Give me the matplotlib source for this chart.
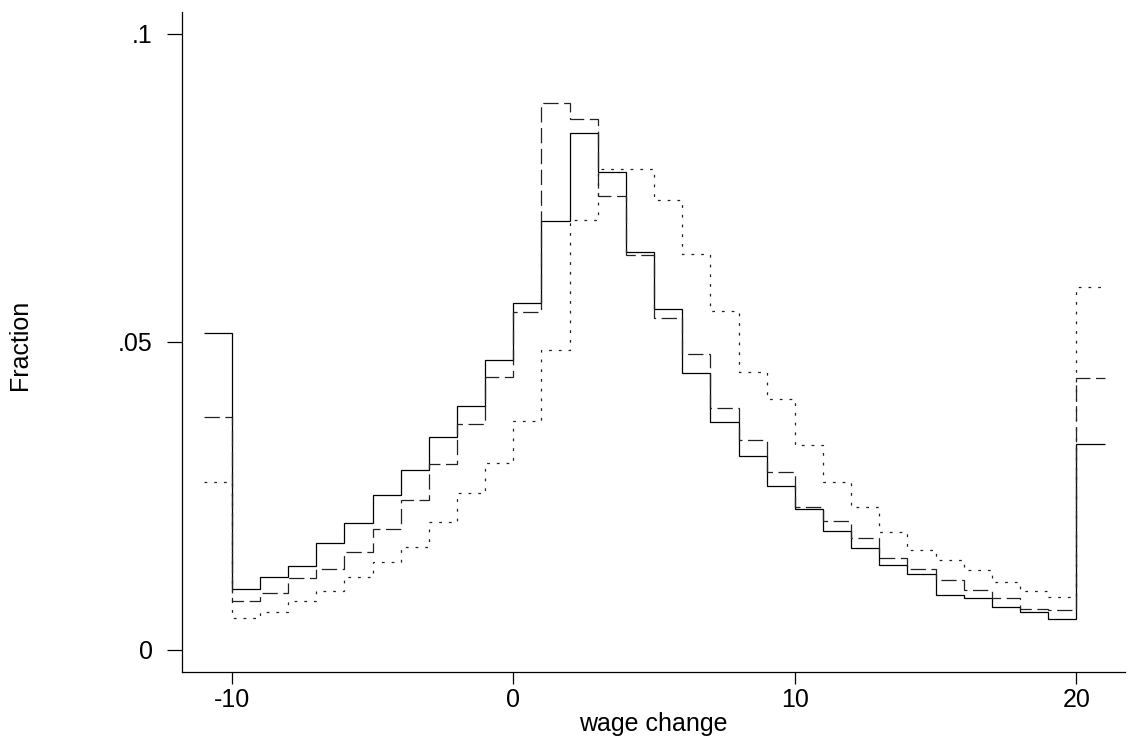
import matplotlib
matplotlib.use("Agg")
import matplotlib.pyplot as plt
import numpy as np

# bin edges: width 1 from -11 to 21
edges = np.arange(-11, 22)

solid = [0.0514, 0.0099, 0.0119, 0.0136, 0.0174, 0.0206, 0.0252, 0.0292,
         0.0345, 0.0396, 0.0471, 0.0563, 0.0696, 0.0838, 0.0775, 0.0645,
         0.0553, 0.0449, 0.0370, 0.0315, 0.0266, 0.0228, 0.0193, 0.0166,
         0.0138, 0.0123, 0.0089, 0.0084, 0.0070, 0.0061, 0.0050, 0.0334]

dashed = [0.0378, 0.0080, 0.0092, 0.0116, 0.0132, 0.0159, 0.0196, 0.0244,
          0.0301, 0.0366, 0.0443, 0.0549, 0.0887, 0.0862, 0.0737, 0.0640,
          0.0539, 0.0480, 0.0392, 0.0341, 0.0289, 0.0232, 0.0210, 0.0182,
          0.0150, 0.0132, 0.0114, 0.0097, 0.0085, 0.0066, 0.0065, 0.0442]

dotted = [0.0272, 0.0052, 0.0062, 0.0080, 0.0096, 0.0119, 0.0142, 0.0167,
          0.0208, 0.0254, 0.0304, 0.0371, 0.0487, 0.0698, 0.0781, 0.0781,
          0.0730, 0.0642, 0.0550, 0.0451, 0.0407, 0.0332, 0.0273, 0.0232,
          0.0191, 0.0162, 0.0146, 0.0130, 0.0110, 0.0095, 0.0086, 0.0589]

xticks = [-10, 0, 10, 20]
yticks = [0, 0.05, 0.1]
ytick_labels = ['0', '.05', '.1']

plt.rcParams['font.family'] = 'Liberation Sans'
plt.rcParams['font.size'] = 18
plt.rcParams['lines.scale_dashes'] = False

fig = plt.figure(figsize=(11.33, 7.40), dpi=100)
ax = fig.add_axes([0.1604, 0.0923, 0.8326, 0.8915])

ax.stairs(solid, edges, baseline=None, color='black', lw=0.9)
ax.stairs(dashed, edges, baseline=None, color='#222222', lw=0.9, linestyle=(0, (11, 4)))
ax.stairs(dotted, edges, baseline=None, color='#222222', lw=0.9, linestyle=(0, (2, 5)))

ax.set_xlim(-11.776, 21.73)
ax.set_ylim(-0.00352, 0.1035)

ax.set_xticks(xticks)
ax.set_xticklabels([str(t) for t in xticks])
ax.set_yticks(yticks)
ax.set_yticklabels(ytick_labels)

ax.spines['top'].set_visible(False)
ax.spines['right'].set_visible(False)
for s in ['left', 'bottom']:
    ax.spines[s].set_linewidth(0.9)

ax.tick_params(axis='y', length=11, width=0.9, pad=10)
ax.tick_params(axis='x', length=8.5, width=0.9, pad=3)

ax.set_xlabel('wage change', labelpad=0)
ax.set_ylabel('Fraction')
ax.yaxis.set_label_coords(-0.1587, 0.496)

fig.savefig('out.png', dpi=100)
